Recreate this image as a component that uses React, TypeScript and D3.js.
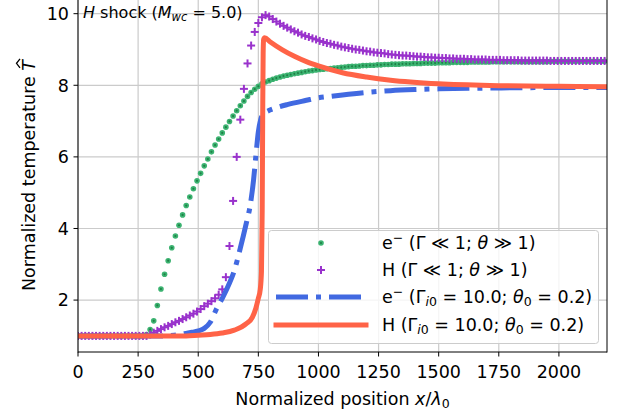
import React, { useLayoutEffect, useRef, useState } from "react";
import * as d3 from "d3";

// ---- data ----
const sampleX = [0,15,30,45,60,75,90,105,120,135,150,165,180,195,210,225,240,255,270,285,300,315,330,345,360,375,390,405,420,435,450,465,480,495,510,525,540,555,570,585,600,615,630,645,660,675,690,705,720,735,750,765,780,795,810,825,840,855,870,885,900,915,930,945,960,975,990,1005,1020,1035,1050,1065,1080,1095,1110,1125,1140,1155,1170,1185,1200,1215,1230,1245,1260,1275,1290,1305,1320,1335,1350,1365,1380,1395,1410,1425,1440,1455,1470,1485,1500,1515,1530,1545,1560,1575,1590,1605,1620,1635,1650,1665,1680,1695,1710,1725,1740,1755,1770,1785,1800,1815,1830,1845,1860,1875,1890,1905,1920,1935,1950,1965,1980,1995,2010,2025,2040,2055,2070,2085,2100,2115,2130,2145,2160,2175,2190];

const electronCold = [1,1,1,1,1,1,1,1,1,1,1,1,1,1,1,1,1,1,1,1.04,1.18,1.42,1.85,2.31,2.72,3.10,3.46,3.79,4.09,4.38,4.64,4.88,5.11,5.33,5.54,5.75,5.94,6.14,6.33,6.50,6.67,6.83,6.99,7.14,7.29,7.43,7.56,7.69,7.80,7.89,7.97,8.04,8.09,8.13,8.17,8.20,8.23,8.26,8.28,8.30,8.32,8.34,8.36,8.38,8.40,8.41,8.43,8.44,8.45,8.46,8.47,8.48,8.49,8.50,8.51,8.52,8.53,8.53,8.54,8.55,8.55,8.56,8.56,8.57,8.57,8.58,8.58,8.59,8.59,8.59,8.60,8.60,8.60,8.61,8.61,8.61,8.62,8.62,8.62,8.62,8.63,8.63,8.63,8.63,8.64,8.64,8.64,8.64,8.64,8.65,8.65,8.65,8.65,8.65,8.65,8.66,8.66,8.66,8.66,8.66,8.66,8.66,8.66,8.66,8.66,8.66,8.66,8.66,8.66,8.66,8.66,8.67,8.67,8.67,8.67,8.67,8.67,8.67,8.67,8.67,8.67,8.67,8.67,8.67,8.67,8.67,8.67];

const ionCold = [1,1,1,1,1,1,1,1,1,1,1,1,1,1,1,1,1,1,1,1,1.04,1.09,1.14,1.19,1.24,1.28,1.33,1.38,1.42,1.47,1.52,1.57,1.62,1.68,1.75,1.83,1.90,1.97,2.05,2.15,2.30,2.64,3.51,4.77,6.00,7.04,7.90,8.61,9.11,9.49,9.74,9.90,9.96,9.92,9.85,9.78,9.72,9.66,9.61,9.56,9.51,9.47,9.42,9.38,9.35,9.31,9.28,9.24,9.21,9.18,9.16,9.13,9.11,9.08,9.06,9.04,9.02,9.00,8.99,8.97,8.95,8.94,8.92,8.91,8.90,8.89,8.87,8.86,8.85,8.84,8.83,8.83,8.82,8.81,8.80,8.80,8.79,8.78,8.78,8.77,8.77,8.76,8.76,8.75,8.75,8.74,8.74,8.74,8.73,8.73,8.72,8.72,8.72,8.72,8.71,8.71,8.71,8.71,8.70,8.70,8.70,8.70,8.70,8.69,8.69,8.69,8.69,8.69,8.69,8.69,8.69,8.68,8.68,8.68,8.68,8.68,8.68,8.68,8.68,8.68,8.68,8.68,8.68,8.68,8.68,8.68,8.68];

const electronHotX = [0,350,400,425,450,475,500,525,550,575,600,625,650,675,700,715,730,740,750,760,770,790,820,870,950,1000,1050,1100,1200,1300,1400,1500,1700,1900,2200];
const electronHotT = [1.0,1.0,1.02,1.04,1.07,1.10,1.14,1.21,1.38,1.74,2.05,2.40,2.82,3.45,4.15,4.60,5.35,6.05,6.70,7.05,7.20,7.28,7.36,7.46,7.58,7.65,7.69,7.73,7.80,7.85,7.88,7.90,7.92,7.935,7.94];

const ionHotX = [0,450,500,550,600,650,700,725,740,750,758,763,766,768,770,772,776,800,850,900,950,1000,1100,1200,1300,1500,1750,2000,2200];
const ionHotT = [1.0,1.0,1.02,1.04,1.08,1.16,1.34,1.52,1.78,2.05,2.30,2.80,4.50,7.00,8.90,9.28,9.33,9.21,8.99,8.81,8.66,8.54,8.35,8.23,8.14,8.04,7.99,7.97,7.96];

const xTicks = [0,250,500,750,1000,1250,1500,1750,2000];
const yTicks = [2,4,6,8,10];

const FONT = "DejaVu Sans";
const GREEN = "#3cb371";
const GREEN_DARK = "#1f8046";
const PURPLE = "#9932cc";
const BLUE = "#4169e1";
const RED = "#ff6347";

const L = 78, R = 607, T = -1, B = 352;

export default function App() {
  const x = d3.scaleLinear().domain([0, 2200]).range([L, R]);
  const y = d3.scaleLinear().domain([0.55, 10.41]).range([B, T]);

  const ylabRef = useRef<SVGTextElement>(null);
  const [hatX, setHatX] = useState(115.5);
  useLayoutEffect(() => {
    const el = ylabRef.current;
    if (!el) return;
    try {
      const n = el.getNumberOfChars();
      const s = el.getStartPositionOfChar(n - 1);
      const e = el.getEndPositionOfChar(n - 1);
      setHatX((s.x + e.x) / 2 + 2);
    } catch (err) {
      /* keep estimate */
    }
  }, []);

  const blueLine = d3.line<number>().x((_, i) => x(electronHotX[i])).y((d) => y(d)).curve(d3.curveMonotoneX)(electronHotT) || "";
  const redLine = d3.line<number>().x((_, i) => x(ionHotX[i])).y((d) => y(d)).curve(d3.curveMonotoneX)(ionHotT) || "";

  const plus = (cx: number, cy: number, key: string | number) => (
    <g key={key} stroke={PURPLE} strokeWidth={2}>
      <line x1={cx - 4} x2={cx + 4} y1={cy} y2={cy} />
      <line x1={cx} x2={cx} y1={cy - 4} y2={cy + 4} />
    </g>
  );
  const dot = (cx: number, cy: number, key: string | number) => (
    <g key={key}>
      <circle cx={cx} cy={cy} r={2.8} fill={GREEN} />
      <circle cx={cx} cy={cy} r={1.1} fill={GREEN_DARK} />
    </g>
  );

  const legendRows = [243, 270, 297, 325];
  const fs = 17.5;
  const sub = 12.5;

  return (
    <svg width={624} height={410} style={{ position: "absolute", left: 0, top: 0, background: "#fff" }} fontFamily={FONT}>
      <defs>
        <clipPath id="plot">
          <rect x={L} y={T} width={R - L} height={B - T} />
        </clipPath>
      </defs>
      <rect x={0} y={0} width={624} height={410} fill="#fff" />
      {/* grid */}
      <g stroke="#cbcbcb" strokeWidth={1.2}>
        {xTicks.map((t) => (
          <line key={"gx" + t} x1={x(t)} x2={x(t)} y1={T} y2={B} />
        ))}
        {yTicks.map((t) => (
          <line key={"gy" + t} x1={L} x2={R} y1={y(t)} y2={y(t)} />
        ))}
      </g>

      <g clipPath="url(#plot)">
        {sampleX.map((xv, i) => dot(x(xv), y(electronCold[i]), "g" + i))}
        {sampleX.map((xv, i) => plus(x(xv), y(ionCold[i]), "p" + i))}
        <path d={blueLine} fill="none" stroke={BLUE} strokeWidth={5} strokeDasharray="32 8 5 8" />
        <path d={redLine} fill="none" stroke={RED} strokeWidth={5} strokeLinejoin="round" />
      </g>

      {/* spines */}
      <g stroke="#000" strokeWidth={1} fill="none">
        <line x1={L} x2={L} y1={T} y2={B + 0.5} />
        <line x1={R} x2={R} y1={T} y2={B + 0.5} />
        <line x1={L} x2={R} y1={B} y2={B} />
      </g>

      {/* ticks */}
      <g fontSize={fs} fill="#000">
        {xTicks.map((t) => (
          <g key={"xt" + t}>
            <line x1={x(t)} x2={x(t)} y1={B} y2={B + 4.5} stroke="#000" strokeWidth={1} />
            <text x={x(t)} y={B + 26} textAnchor="middle">{t}</text>
          </g>
        ))}
        {yTicks.map((t) => (
          <g key={"yt" + t}>
            <line x1={L - 4.5} x2={L} y1={y(t)} y2={y(t)} stroke="#000" strokeWidth={1} />
            <text x={L - 9} y={y(t) + 6.3} textAnchor="end">{t}</text>
          </g>
        ))}
      </g>

      {/* axis labels */}
      <text x={(L + R) / 2} y={405} textAnchor="middle" fontSize={fs}>
        Normalized position <tspan fontStyle="italic">x</tspan>/<tspan fontStyle="italic">λ</tspan>
        <tspan fontSize={sub} dy={3}>0</tspan>
      </text>
      <g transform={`translate(35, ${(T + B) / 2}) rotate(-90)`}>
        <text ref={ylabRef} x={0} y={0} textAnchor="middle" fontSize={fs}>
          Normalized temperature <tspan fontStyle="italic">T</tspan>
        </text>
        <path d={`M ${hatX - 4.5} -15 L ${hatX} -18.5 L ${hatX + 4.5} -15`} fill="none" stroke="#000" strokeWidth={1.3} />
      </g>

      {/* title */}
      <text x={83} y={17.5} fontSize={16}>
        <tspan fontStyle="italic">H</tspan> shock (<tspan fontStyle="italic">M</tspan>
        <tspan fontStyle="italic" fontSize={11.5} dy={3}>wc</tspan>
        <tspan dy={-3}> = 5.0)</tspan>
      </text>

      {/* legend */}
      <rect x={268.5} y={230.5} width={330} height={113} rx={3} fill="#fff" fillOpacity={0.8} stroke="#cccccc" strokeWidth={1} />
      {dot(321, legendRows[0], "lg")}
      {plus(321, legendRows[1], "lp")}
      <line x1={276} x2={366} y1={legendRows[2]} y2={legendRows[2]} stroke={BLUE} strokeWidth={5} strokeDasharray="32 8 5 8" />
      <line x1={276} x2={366} y1={legendRows[3]} y2={legendRows[3]} stroke={RED} strokeWidth={5} strokeLinecap="square" />
      <g fontSize={fs}>
        <text x={382} y={legendRows[0] + 6.3}>
          e<tspan fontSize={sub} dy={-7}>−</tspan><tspan dy={7}> (Γ ≪ 1; </tspan><tspan fontStyle="italic">θ</tspan> ≫ 1)
        </text>
        <text x={382} y={legendRows[1] + 6.3}>
          H (Γ ≪ 1; <tspan fontStyle="italic">θ</tspan> ≫ 1)
        </text>
        <text x={382} y={legendRows[2] + 6.3}>
          e<tspan fontSize={sub} dy={-7}>−</tspan><tspan dy={7}> (Γ</tspan><tspan fontSize={sub} dy={3}><tspan fontStyle="italic">i</tspan>0</tspan><tspan dy={-3}> = 10.0; </tspan><tspan fontStyle="italic">θ</tspan><tspan fontSize={sub} dy={3}>0</tspan><tspan dy={-3}> = 0.2)</tspan>
        </text>
        <text x={382} y={legendRows[3] + 6.3}>
          H (Γ<tspan fontSize={sub} dy={3}><tspan fontStyle="italic">i</tspan>0</tspan><tspan dy={-3}> = 10.0; </tspan><tspan fontStyle="italic">θ</tspan><tspan fontSize={sub} dy={3}>0</tspan><tspan dy={-3}> = 0.2)</tspan>
        </text>
      </g>
    </svg>
  );
}
